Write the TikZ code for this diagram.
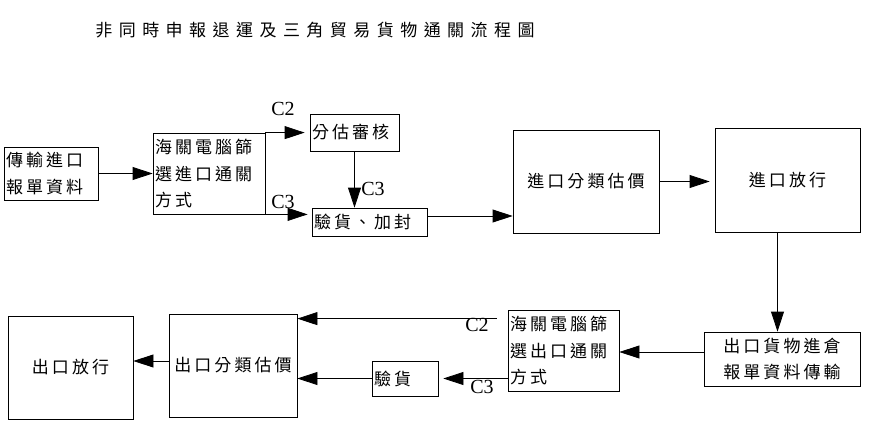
\documentclass[tikz,border=0pt]{standalone}
\usepackage{fontspec}
\setmainfont{Liberation Serif}
\newfontfamily\cjk[LetterSpace=18]{Noto Sans CJK TC}
\newfontfamily\cjktitle[LetterSpace=38]{Noto Sans CJK TC}
\usetikzlibrary{arrows.meta, calc}

\begin{document}
\begin{tikzpicture}[x=1pt, y=-1pt,
    box/.style={draw, line width=0.8pt, inner sep=2pt, font=\cjk\fontsize{17}{26.5}\selectfont},
    lbox/.style={box, align=left},
    cbox/.style={box, align=center},
    flow/.style={-{Triangle[length=20pt, width=13pt]}, line width=0.8pt},
    tag/.style={font=\fontsize{20}{20}\selectfont, inner sep=0pt}]
    \useasboundingbox (0,0) rectangle (871,436);

    \node[font=\cjktitle\fontsize{17}{17}\selectfont] (title) at (315,30) {非同時申報退運及三角貿易貨物通關流程圖};

    % import side
    \node[lbox, text width=90pt, minimum height=53pt] (A) at (51,173.5) {傳輸進口\\報單資料};
    \node[lbox, text width=108pt, minimum height=81pt] (B) at (209,173.5) {海關電腦篩\\選進口通關\\方式};
    \node[lbox, text width=85pt, minimum height=37pt] (C) at (354.5,132.5) {分估審核};
    \node[lbox, text width=111pt, minimum height=28pt] (D) at (369.5,222) {驗貨、加封};
    \node[cbox, minimum width=146pt, minimum height=103pt] (E) at (586,181.5) {進口分類估價};
    \node[cbox, minimum width=145pt, minimum height=104pt] (F) at (787.5,180) {進口放行};

    % export side
    \node[cbox, minimum width=156pt, minimum height=54pt] (G) at (782,359) {出口貨物進倉\\報單資料傳輸};
    \node[lbox, text width=107pt, minimum height=81pt] (H) at (563.5,350.5) {海關電腦篩\\選出口通關\\方式};
    \node[lbox, text width=62pt, minimum height=35pt] (I) at (405,378.5) {驗貨};
    \node[cbox, minimum width=128pt, minimum height=103pt] (J) at (233,365.5) {出口分類估價};
    \node[cbox, minimum width=125pt, minimum height=103pt] (K) at (70.5,367.5) {出口放行};

    \draw[flow] (A) -- (B);
    \draw[flow, shorten >=5pt] (B.north east) -- (B.north east -| C.west);
    \draw[flow, shorten >=4pt] (B.south east) -- (B.south east -| D.west);
    \draw[flow] (C.south) -- (C.south |- D.north);
    \draw[flow] ([yshift=6pt]D.east) -- ([yshift=6pt]D.east -| E.west);
    \draw[flow, shorten >=5pt] (E.east) -- (E.east -| F.west);
    \draw[flow] ([xshift=-10pt]F.south) -- ([xshift=-10pt]F.south |- G.north);
    \draw[flow] ([yshift=7pt]G.west) -- ([yshift=7pt]G.west -| H.east);
    \draw[flow, shorten <=11pt] ([yshift=-9pt]H.north west) -- ([yshift=-9pt]H.north west -| J.east);
    \draw[flow, shorten >=5pt] (H.west |- I.east) -- (I.east);
    \draw[flow] (I.west) -- (I.west -| J.east);
    \draw[flow] ([yshift=4.5pt]J.west) -- ([yshift=4.5pt]J.west -| K.east);

    \node[tag] (c2in) at (283,109) {C2};
    \node[tag] (c3in) at (283,202) {C3};
    \node[tag] (c3chk) at (373,189) {C3};
    \node[tag] (c2out) at (477,325) {C2};
    \node[tag] (c3out) at (482,387) {C3};
\end{tikzpicture}
\end{document}
